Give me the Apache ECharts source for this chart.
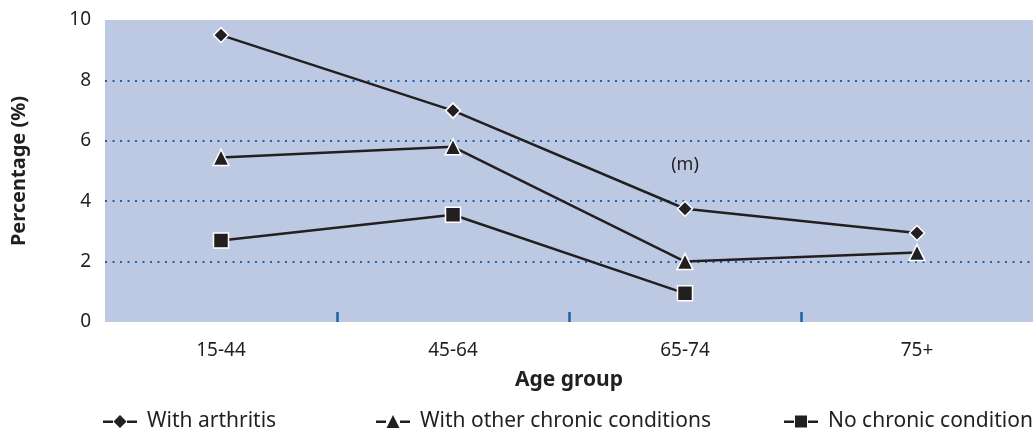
<!DOCTYPE html>
<html><head><meta charset="utf-8">
<script src="https://cdn.jsdelivr.net/npm/echarts@6/dist/echarts.min.js"></script>
<style>html,body{margin:0;padding:0;background:#fff}#c{width:1036px;height:433px}</style>
</head><body><div id="c"></div>
<script>
const categories = ['15-44', '45-64', '65-74', '75+'];
const arthritis = [9.5, 7.0, 3.75, 2.95];
const otherChronic = [5.45, 5.8, 2.0, 2.3];
const noChronic = [2.7, 3.55, 0.95, null];
const seriesNames = ['With arthritis', 'With other chronic conditions', 'No chronic condition'];
const yTicks = [0, 2, 4, 6, 8, 10];
const bandBoundaries = [1, 2, 3];
const noteLabel = '(m)';
const notePos = ['65-74', 5.2];

const FONT = 'Noto Sans';
const DASHES = 'M0 6 L10 6 L10 8.5 L0 8.5 Z M24 6 L34 6 L34 8.5 L24 8.5 Z ';
const icons = [
  'path://' + DASHES + 'M17 0.5 L23.5 7 L17 13.5 L10.5 7 Z',
  'path://' + DASHES + 'M17 0.5 L23.5 13.5 L10.5 13.5 Z',
  'path://' + DASHES + 'M11 1 L23 1 L23 13 L11 13 Z'
];
const chart = echarts.init(document.getElementById('c'), null, {renderer: 'canvas'});
function mk(name, data, symbol, size) {
  return {
    name, type: 'line', data, symbol, symbolSize: size, connectNulls: false,
    lineStyle: {color: '#231f20', width: 2.5},
    itemStyle: {color: '#231f20', borderColor: '#ffffff', borderWidth: 1.5},
    emphasis: {disabled: true}, animation: false
  };
}
const s0 = mk(seriesNames[0], arthritis, 'diamond', 15);
s0.markPoint = {
  symbol: 'circle', symbolSize: 0,
  label: {show: true, formatter: noteLabel, color: '#231f20', fontFamily: FONT, fontSize: 18, position: 'inside'},
  data: [{coord: notePos}]
};
const legendBase = {
  top: 406, itemWidth: 34, itemHeight: 14, itemGap: 11,
  textStyle: {fontFamily: FONT, fontSize: 21, color: '#231f20', padding: [0, 0, 0, 5]},
  itemStyle: {borderWidth: 0, color: '#231f20'},
  selectedMode: false
};
chart.setOption({
  animation: false,
  textStyle: {fontFamily: FONT},
  grid: {left: 105, right: 3, top: 20, bottom: 111, show: true, backgroundColor: '#bdc9e3', borderWidth: 0,
    containLabel: false, outerBoundsMode: 'none'},
  xAxis: [{
    type: 'category', data: categories, boundaryGap: true,
    name: 'Age group', nameLocation: 'middle', nameGap: 48,
    nameTextStyle: {fontFamily: FONT, fontSize: 21, fontWeight: 'bold', color: '#231f20'},
    axisLine: {show: false},
    axisTick: {show: false},
    axisLabel: {fontFamily: FONT, fontSize: 19, color: '#231f20', margin: 19}
  }, {
    type: 'value', min: 0, max: categories.length, position: 'bottom',
    axisLine: {show: false}, axisLabel: {show: false}, splitLine: {show: false},
    axisTick: {show: true, inside: true, length: 10, lineStyle: {color: '#1a64ad', width: 2.5},
      customValues: bandBoundaries}
  }],
  yAxis: {
    type: 'value', min: 0, max: 10, interval: 2,
    name: 'Percentage (%)', nameLocation: 'middle', nameGap: 76, nameRotate: 90,
    nameTextStyle: {fontFamily: FONT, fontSize: 20, fontWeight: 'bold', color: '#231f20'},
    axisLine: {show: false}, axisTick: {show: false},
    axisLabel: {fontFamily: FONT, fontSize: 19, color: '#231f20', margin: 14,
      formatter: v => yTicks.includes(v) ? String(v) : ''},
    splitLine: {show: true, showMinLine: false, showMaxLine: false,
      lineStyle: {color: '#1a64ad', width: 2, type: [2, 5.5]}}
  },
  legend: [
    Object.assign({}, legendBase, {left: 98, icon: icons[0], data: [seriesNames[0]]}),
    Object.assign({}, legendBase, {left: 371, icon: icons[1], data: [seriesNames[1]]}),
    Object.assign({}, legendBase, {left: 779, icon: icons[2], data: [seriesNames[2]]})
  ],
  series: [s0, mk(seriesNames[1], otherChronic, 'triangle', 16), mk(seriesNames[2], noChronic, 'rect', 15)]
});
</script></body></html>
